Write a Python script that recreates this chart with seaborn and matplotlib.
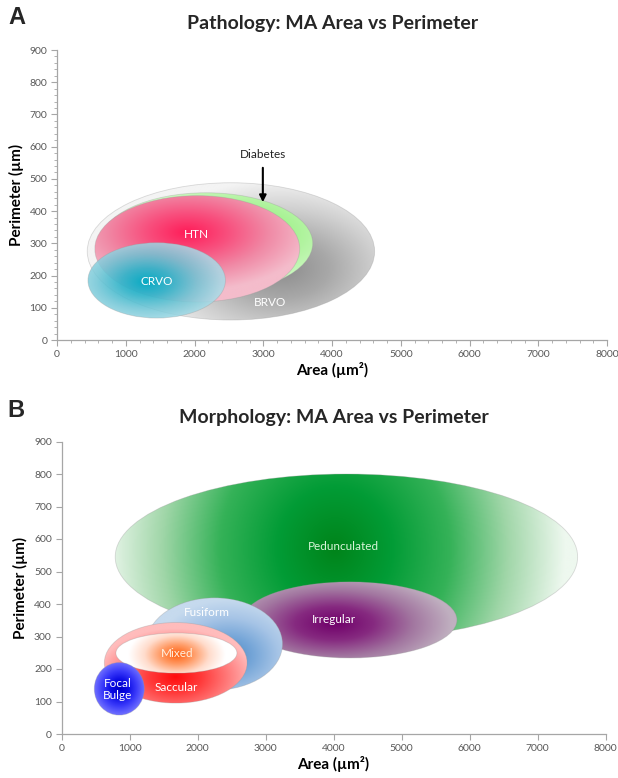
import numpy as np
import matplotlib
matplotlib.use("Agg")
import matplotlib.pyplot as plt
from matplotlib.patches import Ellipse
from matplotlib.ticker import MultipleLocator
import seaborn as sns

# Pathology panel (A): ellipse centres / half extents in data units
path_names = ["BRVO", "Diabetes", "HTN", "CRVO"]
path_area_c = [2530, 2170, 2040, 1450]
path_area_hw = [2090, 1550, 1490, 1000]
path_perim_c = [275, 300, 283, 185]
path_perim_hh = [213, 157, 165, 117]
path_label_x = [3096, None, 2035, 1453]
path_label_y = [115, None, 326, 183]
diab_text = (2994, 575)
diab_arrow_from = (2994, 543)
diab_arrow_to = (2994, 419)

# Morphology panel (B)
morph_names = ["Pedunculated", "Irregular", "Fusiform", "Saccular", "Mixed", "Focal\nBulge"]
morph_area_c = [4190, 4240, 2250, 1680, 1690, 850]
morph_area_hw = [3400, 1575, 1000, 1050, 890, 368]
morph_perim_c = [545, 351, 277, 219, 249, 139]
morph_perim_hh = [255, 117, 142, 124, 62, 81]
morph_label_x = [4140, 4000, 2135, 1684, 1694, 830]
morph_label_y = [578, 351, 373, 144, 248, 137]

x_ticks = list(range(0, 8001, 1000))
y_ticks = list(range(0, 901, 100))

# gradient styles: colours centre->edge, gradient centre (u,v), scale, alpha
path_style = [
    dict(colors=["#8c8c8c", "#a8a8a8", "#d0d0d0", "#f4f4f4"], c=(0.35, -0.25), s=(1.0, 1.3), a=[1, 1, 1, 1], txt="white"),
    dict(colors=["#8fee78", "#a8f294", "#cdf8c2"], c=(0.3, 0.2), s=(1.0, 1.0), a=[1, 1, 1], txt="white"),
    dict(colors=["#ff1c58", "#f8507e", "#f08aa6", "#f4bccb"], c=(-0.1, 0.3), s=(1.2, 1.1), a=[1, 1, 1, 1], txt="white"),
    dict(colors=["#06aac4", "#30b4ca", "#70c6d6", "#a8dce8"], c=(-0.15, -0.05), s=(1.1, 1.1), a=[1, 0.92, 0.85, 0.85], txt="white"),
]
morph_style = [
    dict(colors=["#00841a", "#029c36", "#35b258", "#a0d6a8", "#eef8ef"], c=(-0.05, 0.1), s=(1.0, 3.0), a=[1, 1, 1, 1, 1], txt="#d8f5d8"),
    dict(colors=["#70006a", "#862a80", "#a276a0", "#c0b0c0"], c=(-0.15, -0.1), s=(1.1, 1.3), a=[1, 1, 1, 1], txt="white"),
    dict(colors=["#4d8ac6", "#76a6d8", "#a6c4e6", "#c6daee"], c=(0.2, -0.25), s=(1.1, 1.2), a=[1, 1, 1, 1], txt="white"),
    dict(colors=["#ff0c0c", "#ff3a3a", "#ff7a7a", "#ffbcbc"], c=(0.0, -0.35), s=(1.1, 1.2), a=[1, 1, 1, 1], txt="white"),
    dict(colors=["#ff6010", "#ff9a64", "#ffdccc", "#ffffff"], c=(0.0, -0.1), s=(0.8, 1.4), a=[1, 1, 1, 1], txt="#fff0e0"),
    dict(colors=["#0000c8", "#0c0ce4", "#3a3afa", "#7070ff"], c=(0.0, 0.0), s=(1.0, 1.0), a=[1, 1, 1, 1], txt="white"),
]


def blob(ax, cx, cy, hw, hh, st, z):
    n = 240
    u = np.linspace(-1, 1, n)
    U, V = np.meshgrid(u, u)
    d = np.sqrt(((U - st["c"][0]) / st["s"][0]) ** 2 + ((V - st["c"][1]) / st["s"][1]) ** 2)
    d = np.clip(d, 0, 1)
    cmap = sns.blend_palette(st["colors"], as_cmap=True)
    rgba = cmap(d)
    rgba[..., 3] = np.interp(d, np.linspace(0, 1, len(st["a"])), st["a"])
    e = Ellipse((cx, cy), 2 * hw, 2 * hh, facecolor="none", edgecolor="none", zorder=z)
    ax.add_patch(e)
    im = ax.imshow(rgba, extent=[cx - hw, cx + hw, cy - hh, cy + hh], origin="lower",
                   interpolation="bilinear", aspect="auto", zorder=z)
    im.set_clip_path(e)
    ax.add_patch(Ellipse((cx, cy), 2 * hw, 2 * hh, facecolor="none",
                         edgecolor=(0.6, 0.6, 0.6, 0.35), lw=0.6, zorder=z + 0.1))


sns.set_theme(style="ticks")
plt.rcParams["font.family"] = ["Lato", "DejaVu Sans"]

fig = plt.figure(figsize=(6.18, 7.78), dpi=100)
W, H = 618, 778
ax_a = fig.add_axes([57 / W, (H - 340) / H, 550 / W, 290 / H])
ax_b = fig.add_axes([61.5 / W, (H - 734) / H, 544 / W, 292.5 / H])

for i in range(len(path_names)):
    blob(ax_a, path_area_c[i], path_perim_c[i], path_area_hw[i], path_perim_hh[i], path_style[i], 2 + i)
    if path_label_x[i] is not None:
        ax_a.text(path_label_x[i], path_label_y[i], path_names[i], color=path_style[i]["txt"],
                  fontsize=8.5, ha="center", va="center", zorder=20)
ax_a.text(diab_text[0], diab_text[1], "Diabetes", fontsize=8.5, color="#222222",
          ha="center", va="center", zorder=20)
ax_a.annotate("", xy=diab_arrow_to, xytext=diab_arrow_from,
              arrowprops=dict(arrowstyle="-|>", color="black", lw=1.5, mutation_scale=10), zorder=21)

for i in range(len(morph_names)):
    blob(ax_b, morph_area_c[i], morph_perim_c[i], morph_area_hw[i], morph_perim_hh[i], morph_style[i], 2 + i)
    ax_b.text(morph_label_x[i], morph_label_y[i], morph_names[i], color=morph_style[i]["txt"],
              fontsize=8.5, ha="center", va="center", linespacing=1.15, zorder=20)

for ax in (ax_a, ax_b):
    ax.set_xlim(0, 8000)
    ax.set_ylim(0, 900)
    ax.set_xticks(x_ticks)
    ax.set_yticks(y_ticks)
    sns.despine(ax=ax)
    for sp in ("left", "bottom"):
        ax.spines[sp].set_color("#a6a6a6")
        ax.spines[sp].set_linewidth(0.9)
    ax.tick_params(axis="both", which="major", direction="out", length=4, width=0.8,
                   color="#a6a6a6", labelcolor="#595959", labelsize=7.5, pad=3)
    ax.set_xlabel("Area (µm²)", fontsize=11, fontweight="bold", color="black", labelpad=2)
    ax.set_ylabel("Perimeter (µm)", fontsize=11, fontweight="bold", color="black", labelpad=4)
    ax.grid(False)
    ax.set_facecolor("white")

ax_a.xaxis.set_minor_locator(MultipleLocator(200))
ax_a.yaxis.set_minor_locator(MultipleLocator(20))
ax_a.tick_params(which="minor", direction="out", length=2.5, width=0.6, color="#a6a6a6")

fig.text(333 / W, 1 - 24 / H, "Pathology: MA Area vs Perimeter", fontsize=14, fontweight="bold",
         ha="center", va="center")
fig.text(334 / W, 1 - 418 / H, "Morphology: MA Area vs Perimeter", fontsize=14, fontweight="bold",
         ha="center", va="center")
fig.text(17 / W, 1 - 18 / H, "A", fontsize=17, fontweight="bold", ha="center", va="center",
         family=["Liberation Sans", "DejaVu Sans"])
fig.text(16 / W, 1 - 411 / H, "B", fontsize=17, fontweight="bold", ha="center", va="center",
         family=["Liberation Sans", "DejaVu Sans"])

fig.savefig("out.png", dpi=100, facecolor="white")
